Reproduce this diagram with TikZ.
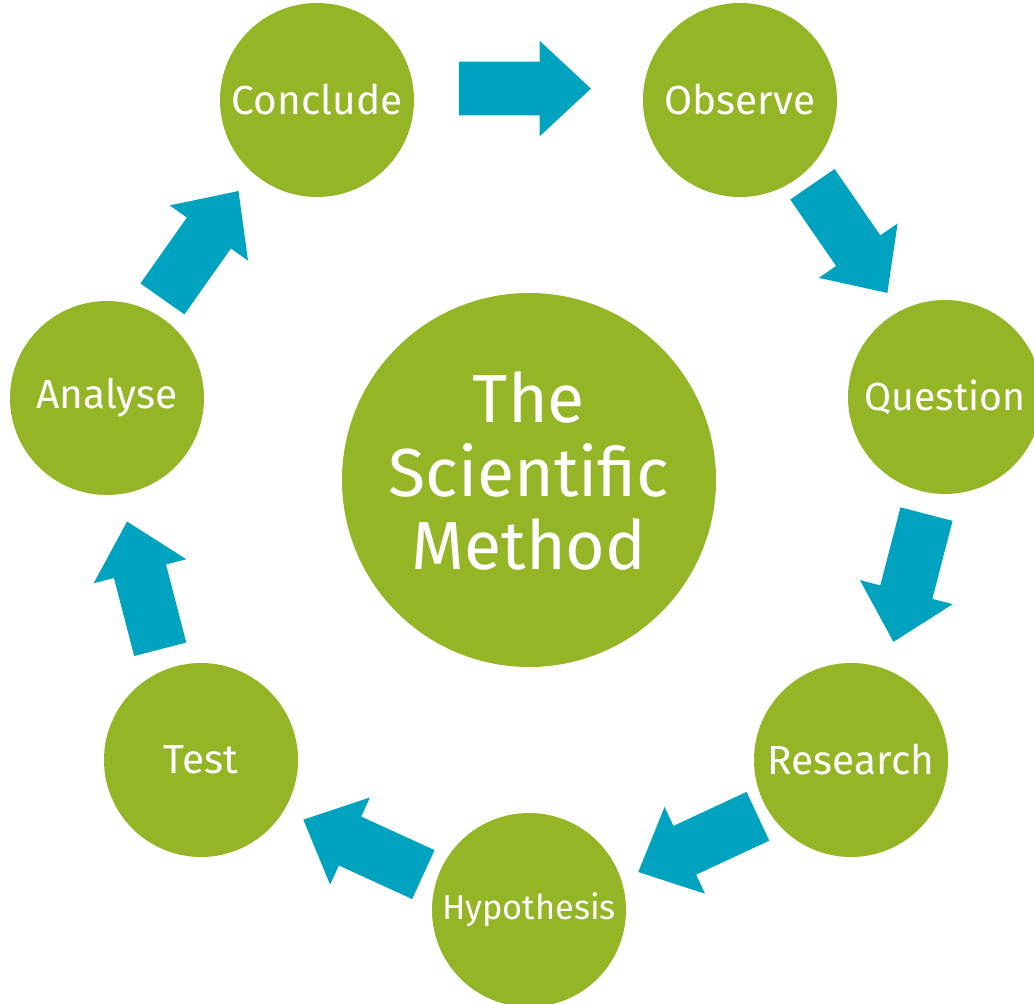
\documentclass[tikz,border=0pt]{standalone}
\usepackage{fontspec}
\setmainfont{Fira Sans}
\usetikzlibrary{shapes.arrows, calc}

\definecolor{stagegreen}{HTML}{93B526}
\definecolor{arrowteal}{HTML}{00A3BF}

\begin{document}
\begin{tikzpicture}[x = 0.5pt, y = -0.5pt,
  stage/.style = {circle, fill = stagegreen, text = white, minimum size = 97pt, inner sep = 0pt, font = \fontsize{20.3}{24}\selectfont},
  cyclearrow/.style = {single arrow, fill = arrowteal, minimum height = 66pt, inner xsep = 0pt, inner ysep = 13.25pt, single arrow head extend = 10.5pt, single arrow tip angle = 86}]

\clip (0, 0) rectangle (1034, 1004);

\node[stage, minimum size = 187pt, align = center, text depth = 9pt, font = \fontsize{34}{36.75}\selectfont] (method) at (529, 480) {The\\Scientific\\Method};

\node[stage] (conclude) at (317, 100) {Conclude};
\node[stage] (observe) at (740, 100) {Observe};
\node[stage, font = \fontsize{19.6}{22}\selectfont] (question) at (945, 397) {Question};
\node[stage] (research) at (851, 760) {Research};
\node[stage, font = \fontsize{17.2}{20}\selectfont] (hypothesis) at (529, 910) {Hypothesis};
\node[stage] (test) at (201, 760) {Test};
\node[stage] (analyse) at (107, 398) {Analyse};

\foreach \from/\to [count = \i] in {conclude/observe, observe/question, question/research, research/hypothesis, hypothesis/test, test/analyse, analyse/conclude}
{
  \coordinate (mid\i) at ($(\from)!0.5!(\to)$);
  \path let \p1 = ($(\to) - (\from)$), \n1 = {atan2(\y1, \x1)} in
    node[cyclearrow, rotate = \n1, xshift = -9pt] (arrow\i) at ($(method)!1.03!(mid\i)$) {};
}

\end{tikzpicture}
\end{document}
